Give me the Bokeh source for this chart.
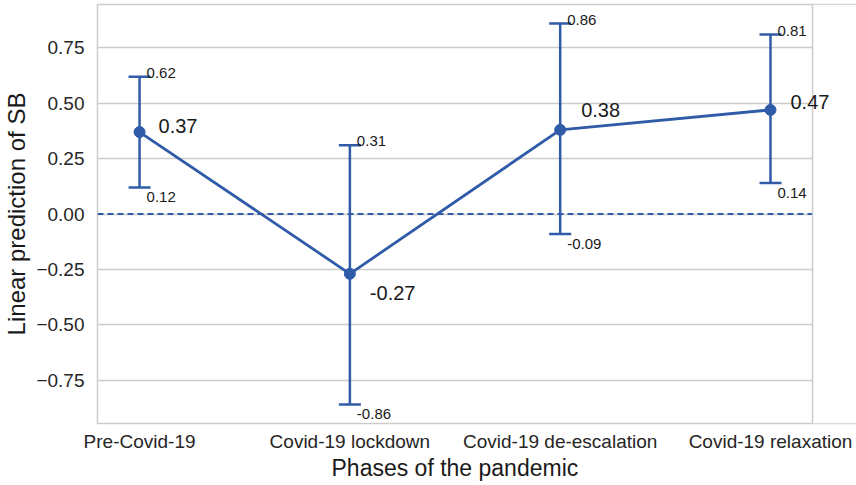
from bokeh.plotting import figure
from bokeh.models import (ColumnDataSource, Whisker, TeeHead, Span, FixedTicker,
                          Range1d, Label, BoxAnnotation, Title)
from bokeh.embed import file_html
from bokeh.resources import INLINE

# ---- data ----
phases = ["Pre-Covid-19", "Covid-19 lockdown", "Covid-19 de-escalation", "Covid-19 relaxation"]
means = [0.37, -0.27, 0.38, 0.47]
lower = [0.12, -0.86, -0.09, 0.14]
upper = [0.62, 0.31, 0.86, 0.81]
mean_labels = ["0.37", "-0.27", "0.38", "0.47"]
lower_labels = ["0.12", "-0.86", "-0.09", "0.14"]
upper_labels = ["0.62", "0.31", "0.86", "0.81"]
y_ticks = [-0.75, -0.5, -0.25, 0.0, 0.25, 0.5, 0.75]
y_tick_labels = ["\u22120.75", "\u22120.50", "\u22120.25", "0.00", "0.25", "0.50", "0.75"]
x_title = "Phases of the pandemic"
y_title = "Linear prediction of SB"

# ---- style / layout ----
BLUE = "#2f5ba8"
FONT = "Liberation Sans"
TXT = "#1a1a1a"
GRID = "#cccccc"
BOX = (-0.2, 3.2)               # visible plot box in x (category units)
mean_dx = [19, 20, 21, 20]      # pixel offsets of mean labels
mean_dy = [6, -19, 20, 8]       # screen px (positive = up)

xs = list(range(len(phases)))
src = ColumnDataSource(dict(x=xs, mean=means, lower=lower, upper=upper))

# frame extends to the right edge so the last label is not clipped;
# the area right of the visible box is blanked
p = figure(width=856, height=485, output_backend="svg", toolbar_location=None,
           x_range=Range1d(BOX[0], BOX[0] + (BOX[1] - BOX[0]) * 760 / 716),
           y_range=Range1d(-0.946, 0.946),
           min_border_left=96, min_border_right=0, min_border_top=4, min_border_bottom=62)
p.background_fill_color = "white"
p.border_fill_color = "white"
p.outline_line_color = GRID
p.outline_line_width = 1.5

# grid
p.xgrid.visible = False
p.ygrid.ticker = FixedTicker(ticks=y_ticks)
p.ygrid.grid_line_color = GRID
p.ygrid.grid_line_width = 1.3

# axes
p.yaxis.ticker = FixedTicker(ticks=y_ticks)
p.yaxis.major_label_overrides = {t: l for t, l in zip(y_ticks, y_tick_labels)}
p.xaxis.ticker = FixedTicker(ticks=xs)
p.xaxis.major_label_overrides = {i: n for i, n in zip(xs, phases)}
for ax in (p.xaxis, p.yaxis):
    ax.axis_line_color = None
    ax.major_tick_line_color = None
    ax.minor_tick_line_color = None
    ax.major_tick_out = 0
    ax.major_tick_in = 0
    ax.minor_tick_out = 0
    ax.major_label_text_font = FONT
    ax.major_label_text_font_size = "19px"
    ax.major_label_text_color = "#262626"
    ax.major_label_text_line_height = 1.0
    ax.axis_label_text_font = FONT
    ax.axis_label_text_font_style = "normal"
    ax.axis_label_text_color = TXT
    ax.axis_label_text_line_height = 1.0
p.yaxis.axis_label = y_title
p.yaxis.axis_label_text_font_size = "24px"
p.yaxis.major_label_standoff = 13
p.yaxis.axis_label_standoff = 3
p.xaxis.major_label_standoff = 7

# x axis title, centred under the visible box
p.add_layout(Title(text=x_title, align="left", offset=234, standoff=-4,
                   text_font=FONT, text_font_size="23px", text_font_style="normal",
                   text_color=TXT), "below")

# zero reference line
p.add_layout(Span(location=0, dimension="width", line_color=BLUE,
                  line_width=1.8, line_dash="6 4", level="underlay"))

# blank the area right of the plot box, then draw its right edge
p.add_layout(BoxAnnotation(left=BOX[1], fill_color="white", fill_alpha=1.0,
                           line_color=None, level="annotation"))
p.add_layout(Span(location=BOX[1], dimension="height", line_color=GRID,
                  line_width=1.5, level="annotation"))

# error bars
p.add_layout(Whisker(base="x", upper="upper", lower="lower", source=src,
                     line_color=BLUE, line_width=2.5,
                     upper_head=TeeHead(size=22, line_color=BLUE, line_width=2.5),
                     lower_head=TeeHead(size=22, line_color=BLUE, line_width=2.5)))

# mean line and points
p.line("x", "mean", source=src, line_color=BLUE, line_width=2.8)
p.scatter("x", "mean", source=src, size=11, fill_color=BLUE, line_color=BLUE)

# labels
for i in xs:
    p.add_layout(Label(x=i, y=means[i], text=mean_labels[i], level="overlay",
                       x_offset=mean_dx[i], y_offset=mean_dy[i],
                       text_font=FONT, text_font_size="20px", text_color=TXT,
                       text_align="left", text_baseline="middle"))
    p.add_layout(Label(x=i, y=upper[i], text=upper_labels[i], level="overlay",
                       x_offset=7, y_offset=-1,
                       text_font=FONT, text_font_size="15px", text_color=TXT,
                       text_align="left", text_baseline="bottom"))
    p.add_layout(Label(x=i, y=lower[i], text=lower_labels[i], level="overlay",
                       x_offset=7, y_offset=-5,
                       text_font=FONT, text_font_size="15px", text_color=TXT,
                       text_align="left", text_baseline="top"))

open("out.html", "w").write(file_html(p, INLINE))
